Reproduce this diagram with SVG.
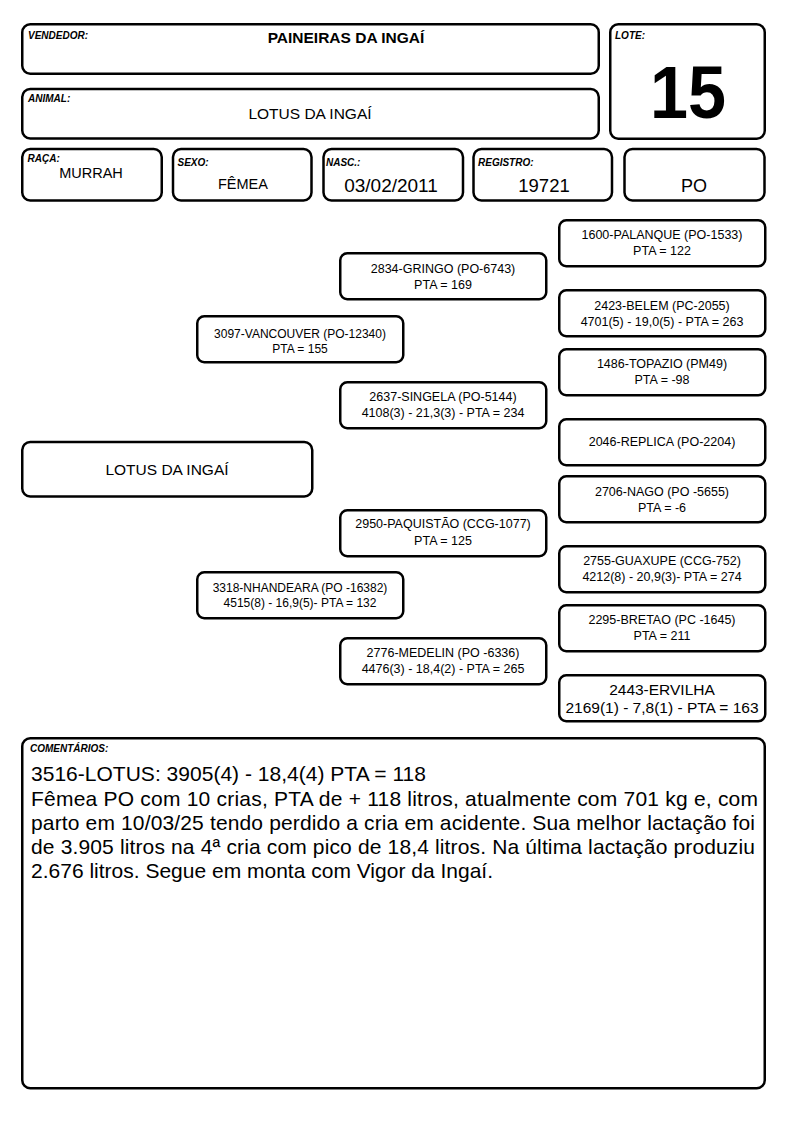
<svg xmlns="http://www.w3.org/2000/svg" width="794" height="1123" viewBox="0 0 794 1123">
<style>
  .box { fill: #ffffff; stroke: #000000; stroke-width: 2.5; }
  .lbl { font-family: "Liberation Sans", Arial, sans-serif; font-size: 10px; font-weight: bold; font-style: italic; fill: #000; }
  .val { font-family: "Liberation Sans", Arial, sans-serif; fill: #000; text-anchor: middle; }
  .ped { font-family: "Liberation Sans", Arial, sans-serif; font-size: 12.5px; fill: #000; text-anchor: middle; }
  .pedS { font-family: "Liberation Sans", Arial, sans-serif; font-size: 12px; fill: #000; text-anchor: middle; }
  .cmt { font-family: "Liberation Sans", Arial, sans-serif; font-size: 21px; fill: #000; }
</style>
<rect width="794" height="1123" fill="#ffffff"/>

<g id="vendedor">
  <rect class="box" x="22.25" y="24.25" width="576.5" height="49.5" rx="8"/>
  <text class="lbl" x="28" y="39">VENDEDOR:</text>
  <text class="val" x="346" y="43" font-size="15.5" font-weight="bold">PAINEIRAS DA INGAÍ</text>
</g>
<g id="animal">
  <rect class="box" x="22.25" y="89" width="576.5" height="49.5" rx="8"/>
  <text class="lbl" x="28" y="102">ANIMAL:</text>
  <text class="val" x="310" y="119" font-size="15.5">LOTUS DA INGAÍ</text>
</g>
<g id="lote">
  <rect class="box" x="610.25" y="24.25" width="154.5" height="114.5" rx="8"/>
  <text class="lbl" x="615" y="39">LOTE:</text>
  <text class="val" x="688" y="118" font-size="75" font-weight="bold" textLength="76" lengthAdjust="spacingAndGlyphs">15</text>
</g>
<g id="raca">
  <rect class="box" x="22.25" y="149" width="139.5" height="51.5" rx="8"/>
  <text class="lbl" x="27.5" y="162">RAÇA:</text>
  <text class="val" x="91" y="178" font-size="14.5">MURRAH</text>
</g>
<g id="sexo">
  <rect class="box" x="173" y="149" width="138.5" height="51.5" rx="8"/>
  <text class="lbl" x="177.5" y="165.5">SEXO:</text>
  <text class="val" x="243" y="189" font-size="14.5">FÊMEA</text>
</g>
<g id="nasc">
  <rect class="box" x="323.5" y="149" width="139.5" height="51.5" rx="8"/>
  <text class="lbl" x="326" y="165.5">NASC.:</text>
  <text class="val" x="391" y="192" font-size="19">03/02/2011</text>
</g>
<g id="registro">
  <rect class="box" x="473.5" y="149" width="138.5" height="51.5" rx="8"/>
  <text class="lbl" x="478" y="165.5">REGISTRO:</text>
  <text class="val" x="544" y="191.5" font-size="18.5">19721</text>
</g>
<g id="categoria">
  <rect class="box" x="624.5" y="149" width="140" height="51.5" rx="8"/>
  <text class="val" x="694" y="192" font-size="18">PO</text>
</g>

<g id="connectors"></g>

<g id="p-lotus">
  <rect class="box" x="22.25" y="442" width="290" height="54.5" rx="8"/>
  <text class="val" x="167" y="474.5" font-size="15.5">LOTUS DA INGAÍ</text>
</g>
<g id="p-vancouver">
  <rect class="box" x="197.25" y="316.25" width="206" height="46" rx="7"/>
  <text class="pedS" x="300" y="337.5">3097-VANCOUVER (PO-12340)</text>
  <text class="pedS" x="300" y="352.5">PTA = 155</text>
</g>
<g id="p-nhandeara">
  <rect class="box" x="197.25" y="572.25" width="206" height="46" rx="7"/>
  <text class="pedS" x="300" y="592">3318-NHANDEARA (PO -16382)</text>
  <text class="pedS" x="300" y="607">4515(8) - 16,9(5)- PTA = 132</text>
</g>
<g id="p-gringo">
  <rect class="box" x="340.25" y="253.25" width="206" height="46" rx="7"/>
  <text class="ped" x="443" y="272.5">2834-GRINGO (PO-6743)</text>
  <text class="ped" x="443" y="288.5">PTA = 169</text>
</g>
<g id="p-singela">
  <rect class="box" x="340.25" y="382.25" width="206" height="46" rx="7"/>
  <text class="ped" x="443" y="400.5">2637-SINGELA (PO-5144)</text>
  <text class="ped" x="443" y="416.5">4108(3) - 21,3(3) - PTA = 234</text>
</g>
<g id="p-paquistao">
  <rect class="box" x="340.25" y="510.25" width="206" height="46" rx="7"/>
  <text class="ped" x="443" y="528">2950-PAQUISTÃO (CCG-1077)</text>
  <text class="ped" x="443" y="544.5">PTA = 125</text>
</g>
<g id="p-medelin">
  <rect class="box" x="340.25" y="638.25" width="206" height="46" rx="7"/>
  <text class="ped" x="443" y="656.5">2776-MEDELIN (PO -6336)</text>
  <text class="ped" x="443" y="672.5">4476(3) - 18,4(2) - PTA = 265</text>
</g>
<g id="p-palanque">
  <rect class="box" x="559.25" y="220.25" width="206" height="46" rx="7"/>
  <text class="ped" x="662" y="239">1600-PALANQUE (PO-1533)</text>
  <text class="ped" x="662" y="255">PTA = 122</text>
</g>
<g id="p-belem">
  <rect class="box" x="559.25" y="290.25" width="206" height="46" rx="7"/>
  <text class="ped" x="662" y="310">2423-BELEM (PC-2055)</text>
  <text class="ped" x="662" y="326">4701(5) - 19,0(5) - PTA = 263</text>
</g>
<g id="p-topazio">
  <rect class="box" x="559.25" y="349.25" width="206" height="46" rx="7"/>
  <text class="ped" x="662" y="367.5">1486-TOPAZIO (PM49)</text>
  <text class="ped" x="662" y="383.5">PTA = -98</text>
</g>
<g id="p-replica">
  <rect class="box" x="559.25" y="419.25" width="206" height="46" rx="7"/>
  <text class="ped" x="662" y="446">2046-REPLICA (PO-2204)</text>
</g>
<g id="p-nago">
  <rect class="box" x="559.25" y="476.25" width="206" height="46" rx="7"/>
  <text class="ped" x="662" y="495.5">2706-NAGO (PO -5655)</text>
  <text class="ped" x="662" y="511.5">PTA = -6</text>
</g>
<g id="p-guaxupe">
  <rect class="box" x="559.25" y="546.25" width="206" height="46" rx="7"/>
  <text class="ped" x="662" y="564.5">2755-GUAXUPE (CCG-752)</text>
  <text class="ped" x="662" y="580.5">4212(8) - 20,9(3)- PTA = 274</text>
</g>
<g id="p-bretao">
  <rect class="box" x="559.25" y="605.25" width="206" height="46" rx="7"/>
  <text class="ped" x="662" y="623.5">2295-BRETAO (PC -1645)</text>
  <text class="ped" x="662" y="639.5">PTA = 211</text>
</g>
<g id="p-ervilha">
  <rect class="box" x="559.25" y="675.25" width="206" height="46" rx="7"/>
  <text class="val" x="662" y="694.5" font-size="15.5">2443-ERVILHA</text>
  <text class="val" x="662" y="712.5" font-size="15.5">2169(1) - 7,8(1) - PTA = 163</text>
</g>

<g id="comentarios">
  <rect class="box" x="22.25" y="738.25" width="742.5" height="350" rx="8"/>
  <text class="lbl" x="30" y="752" font-size="9.5">COMENTÁRIOS:</text>
  <text class="cmt" x="31" y="781" textLength="395" lengthAdjust="spacing">3516-LOTUS: 3905(4) - 18,4(4) PTA = 118</text>
  <text class="cmt" x="31" y="806" textLength="727" lengthAdjust="spacing">Fêmea PO com 10 crias, PTA de + 118 litros, atualmente com 701 kg e, com</text>
  <text class="cmt" x="31" y="830" textLength="724" lengthAdjust="spacing">parto em 10/03/25 tendo perdido a cria em acidente. Sua melhor lactação foi</text>
  <text class="cmt" x="31" y="854" textLength="724" lengthAdjust="spacing">de 3.905 litros na 4ª cria com pico de 18,4 litros. Na última lactação produziu</text>
  <text class="cmt" x="31" y="878" textLength="462" lengthAdjust="spacing">2.676 litros. Segue em monta com Vigor da Ingaí.</text>
</g>
</svg>
